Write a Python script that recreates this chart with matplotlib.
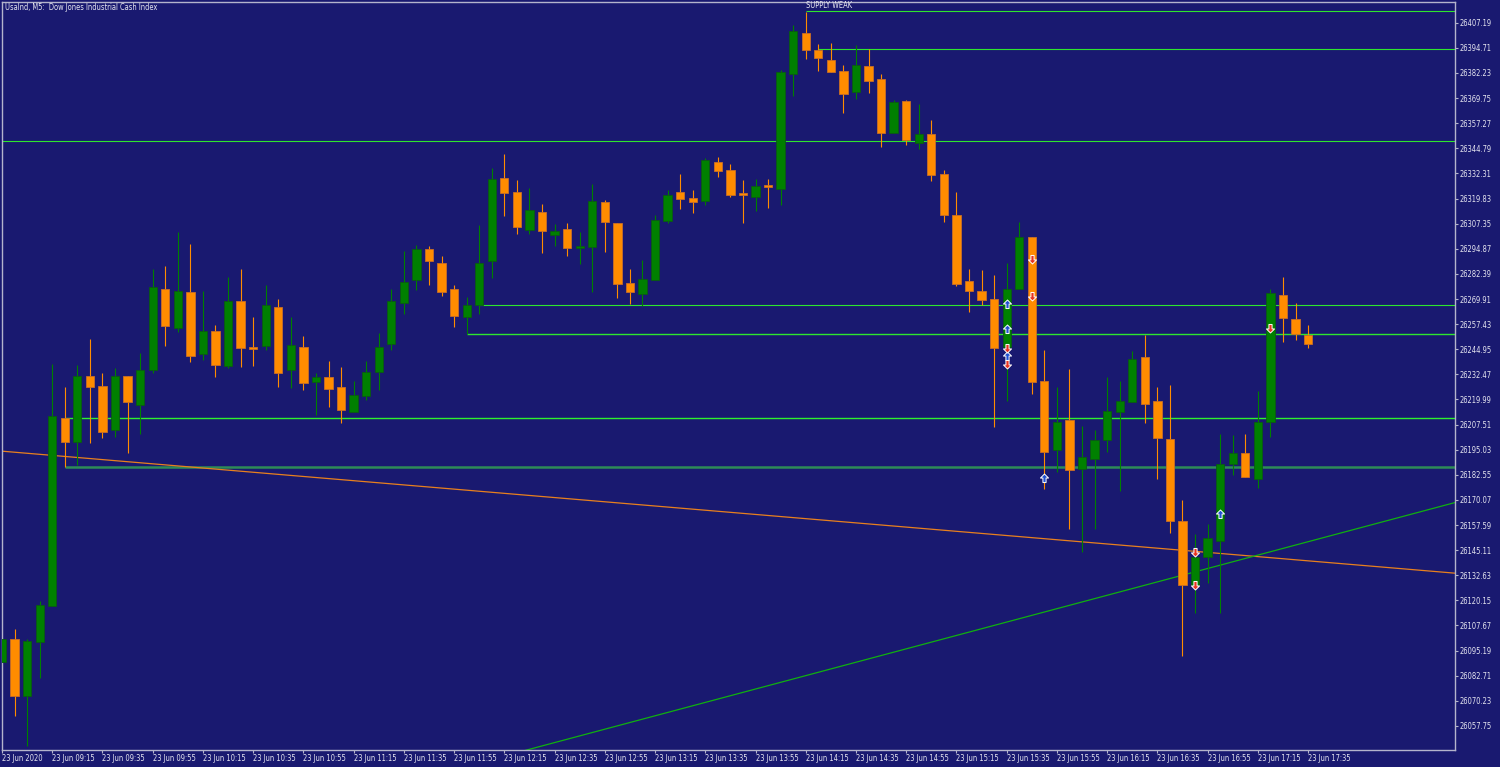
import numpy as np
import pandas as pd
import matplotlib
matplotlib.use("Agg")
import matplotlib.pyplot as plt
from matplotlib.path import Path
from matplotlib import font_manager as fm

# UsaInd M5 bars, 23 Jun 2020, first bar 08:55
start_time = "2020-06-23 08:55"
bar_minutes = 5

opens = [
    26089.6, 26101.0, 26072.7, 26099.5, 26117.4, 26210.8, 26198.7, 26231.5, 26226.7, 26204.7,
    26231.8, 26217.4, 26234.8, 26275.0, 26255.7, 26273.3, 26242.4, 26254.0, 26236.6, 26268.9,
    26245.9, 26246.7, 26265.8, 26234.8, 26245.9, 26228.8, 26231.2, 26226.2, 26213.6, 26221.9,
    26233.5, 26247.6, 26267.8, 26279.5, 26294.6, 26287.8, 26275.0, 26260.8, 26266.8, 26289.0,
    26330.1, 26323.1, 26304.4, 26313.0, 26301.7, 26304.7, 26295.3, 26295.8, 26318.1, 26307.8,
    26277.7, 26272.6, 26279.5, 26308.8, 26323.1, 26320.0, 26318.5, 26337.9, 26334.0, 26322.4,
    26320.5, 26326.1, 26324.7, 26381.7, 26402.1, 26393.8, 26388.8, 26383.2, 26372.6, 26385.9,
    26379.2, 26352.3, 26368.3, 26347.6, 26351.9, 26332.0, 26311.7, 26278.9, 26273.9, 26269.9,
    26246.2, 26274.9, 26300.7, 26229.2, 26195.0, 26209.7, 26185.6, 26190.6, 26200.0, 26213.9,
    26218.6, 26241.0, 26219.0, 26200.4, 26159.8, 26127.8, 26141.6, 26149.8, 26187.9, 26193.6,
    26180.5, 26209.0, 26271.9, 26260.0, 26252.0]
highs = [
    26101.0, 26105.9, 26101.0, 26119.9, 26237.6, 26226.2, 26237.0, 26249.9, 26233.0, 26235.6,
    26231.8, 26243.1, 26284.8, 26286.2, 26303.2, 26297.3, 26273.9, 26257.2, 26280.9, 26284.8,
    26261.0, 26276.7, 26269.9, 26261.0, 26251.7, 26233.0, 26239.1, 26236.1, 26229.2, 26239.0,
    26252.9, 26274.7, 26293.8, 26296.9, 26296.3, 26291.1, 26276.9, 26271.1, 26306.7, 26334.9,
    26342.1, 26328.9, 26324.9, 26317.1, 26307.0, 26307.8, 26303.2, 26327.1, 26319.1, 26307.8,
    26284.8, 26289.2, 26311.5, 26323.9, 26332.0, 26323.9, 26340.0, 26340.3, 26337.0, 26329.1,
    26329.6, 26329.6, 26383.7, 26406.1, 26412.7, 26396.6, 26397.1, 26386.2, 26396.0, 26394.0,
    26381.9, 26369.0, 26369.0, 26366.8, 26358.9, 26334.0, 26323.1, 26284.8, 26284.3, 26281.9,
    26288.0, 26308.2, 26300.7, 26244.6, 26226.1, 26235.0, 26206.8, 26204.8, 26231.2, 26229.0,
    26243.9, 26252.0, 26226.2, 26227.2, 26170.1, 26153.2, 26158.1, 26202.7, 26202.4, 26203.0,
    26224.1, 26274.9, 26280.9, 26267.8, 26256.9]
lows = [
    26089.6, 26062.9, 26047.8, 26081.6, 26117.4, 26186.5, 26187.4, 26198.5, 26200.7, 26201.5,
    26193.4, 26202.8, 26233.3, 26246.6, 26253.4, 26238.5, 26239.8, 26231.3, 26235.6, 26236.3,
    26236.6, 26244.4, 26226.4, 26225.9, 26224.6, 26212.4, 26216.4, 26208.5, 26213.6, 26219.6,
    26224.6, 26244.6, 26262.6, 26274.6, 26276.7, 26271.6, 26255.9, 26252.4, 26262.5, 26280.4,
    26311.3, 26302.4, 26302.4, 26292.6, 26296.3, 26291.4, 26287.5, 26273.6, 26293.3, 26270.4,
    26267.4, 26266.6, 26279.5, 26307.5, 26314.5, 26312.7, 26316.6, 26330.5, 26320.5, 26307.5,
    26313.8, 26315.3, 26316.8, 26370.6, 26389.2, 26383.4, 26382.9, 26362.3, 26369.3, 26372.4,
    26345.6, 26352.3, 26346.6, 26344.5, 26328.6, 26308.3, 26276.4, 26263.6, 26266.9, 26206.5,
    26219.4, 26274.9, 26222.7, 26175.5, 26183.8, 26155.6, 26144.2, 26155.6, 26193.9, 26174.7,
    26218.6, 26208.5, 26180.5, 26153.7, 26092.5, 26114.1, 26128.7, 26113.8, 26182.6, 26181.6,
    26175.9, 26201.5, 26248.7, 26249.7, 26245.7]
closes = [
    26101.0, 26072.7, 26099.8, 26118.0, 26211.9, 26198.7, 26231.8, 26226.4, 26203.8, 26231.8,
    26218.7, 26234.6, 26275.9, 26256.5, 26273.9, 26241.6, 26254.0, 26237.3, 26268.9, 26245.6,
    26245.2, 26266.9, 26233.3, 26247.1, 26228.3, 26231.2, 26225.4, 26214.8, 26222.1, 26233.7,
    26245.9, 26268.8, 26278.5, 26294.9, 26289.0, 26273.6, 26261.6, 26266.8, 26287.8, 26329.6,
    26322.8, 26305.6, 26314.0, 26303.7, 26303.9, 26295.4, 26296.3, 26318.6, 26308.3, 26277.4,
    26273.6, 26279.7, 26309.0, 26321.8, 26319.6, 26318.3, 26339.0, 26333.7, 26321.6, 26321.6,
    26326.1, 26325.6, 26382.7, 26403.0, 26393.8, 26389.8, 26382.9, 26371.9, 26386.2, 26378.4,
    26352.6, 26367.8, 26348.9, 26351.9, 26331.7, 26311.8, 26277.5, 26273.8, 26269.4, 26245.7,
    26274.7, 26300.7, 26228.8, 26193.8, 26208.8, 26185.0, 26191.6, 26199.9, 26214.3, 26219.1,
    26240.1, 26217.9, 26200.7, 26159.5, 26127.8, 26141.9, 26151.2, 26187.9, 26193.6, 26181.6,
    26208.8, 26273.1, 26260.3, 26252.5, 26247.7]

# horizontal zone lines: price, first bar, colour, width
level_prices = [26412.9, 26394.0, 26348.3, 26266.8, 26252.4, 26210.6, 26186.6]
level_start = [64, 65, 0, 38, 37, 5, 5]
level_colors = ["#2ee62e", "#2ee62e", "#2ee62e", "#2ee62e", "#2ee62e", "#2ef02e", "#2e8b57"]
level_widths = [0.8, 0.8, 0.8, 0.8, 1.0, 1.0, 1.8]

# trend lines, two anchor points each (bar, price)
orange_bars = [0, 104]
orange_prices = [26194.3, 26139.8]
green_bars = [60, 104]
green_prices = [26076.1, 26149.3]

# signal arrows
arrow_up_bars = [80, 80, 80, 83, 97]
arrow_up_prices = [26267.3, 26255.2, 26241.8, 26180.8, 26162.9]
arrow_dn_bars = [80, 80, 82, 82, 95, 95, 101]
arrow_dn_prices = [26245.7, 26237.5, 26289.7, 26271.4, 26144.4, 26127.8, 26255.4]

# price scale
tick_start = 26057.75
tick_step = 12.48
tick_count = 29

bg = "#191970"
up_col = "#008000"
dn_col = "#ff8c00"
txt_col = "#e6e6f0"
frame_col = "#b4b4cc"


def narrow_font():
    # look for a condensed sans face, the chart uses a small narrow terminal font
    keys = ["liberationsansnarrow-regular", "dejavusanscondensed.ttf", "notosans-condensed.ttf",
            "robotocondensed-regular", "opensans-condensed", "narrow", "condensed"]
    files = [f.fname for f in fm.fontManager.ttflist]
    for k in keys:
        for fn in files:
            low = fn.lower().replace("_", "").replace(" ", "")
            if k in low and not any(b in low for b in ["bold", "italic", "oblique", "light",
                                                        "thin", "black", "medium", "semi", "extra"]):
                return fm.FontProperties(fname=fn)
    return fm.FontProperties(family="DejaVu Sans")


fp = narrow_font()

fig = plt.figure(figsize=(15, 7.67), dpi=100, facecolor=bg)
ax = fig.add_axes([2 / 1500, 17 / 767, 1453 / 1500, 748 / 767])
ax.set_facecolor(bg)

# scale the font so a time label is as wide as in the terminal (~43 px)
renderer = fig.canvas.get_renderer()
probe = fig.text(0, 0, "23 Jun 09:15", fontproperties=fp, fontsize=10)
w = probe.get_window_extent(renderer).width
probe.remove()
fs = min(7.0, 10 * 43 / w)

n = len(opens)
bars = np.arange(n)
for i in bars:
    o, h, l, c = opens[i], highs[i], lows[i], closes[i]
    col = up_col if c > o else dn_col
    edge = "#0a5a14" if c > o else "#c86e28"
    ax.vlines(i, l, h, color=col, lw=0.8, zorder=3)
    body = max(abs(c - o), 0.8)
    ax.bar(i, body, bottom=min(o, c), width=0.66, color=col,
           edgecolor=edge, linewidth=0.6, zorder=4)

xmax = 115.7
for p, s, col, lw in zip(level_prices, level_start, level_colors, level_widths):
    ax.hlines(p, s, xmax + 1, color=col, lw=lw, zorder=2)

xs = np.array([-2, xmax + 2])
k = np.polyfit(orange_bars, orange_prices, 1)
ax.plot(xs, np.polyval(k, xs), color="#e8801e", lw=0.9, zorder=2)
k = np.polyfit(green_bars, green_prices, 1)
ax.plot(xs, np.polyval(k, xs), color="#10b010", lw=0.9, zorder=2)

up_arrow = Path([(0, 1), (-0.9, 0.1), (-0.35, 0.1), (-0.35, -0.9), (0.35, -0.9),
                 (0.35, 0.1), (0.9, 0.1), (0, 1)], closed=True)
dn_arrow = Path([(x, -y) for x, y in up_arrow.vertices], closed=True)
ax.scatter(arrow_up_bars, arrow_up_prices, marker=up_arrow, s=42, color="#1e4fd0",
           edgecolors="white", linewidths=0.7, zorder=6)
ax.scatter(arrow_dn_bars, arrow_dn_prices, marker=dn_arrow, s=42, color="#e8321e",
           edgecolors="white", linewidths=0.7, zorder=6)

ax.text(64, level_prices[0] + 0.8, "SUPPLY WEAK", ha="left", va="bottom",
        fontproperties=fp, fontsize=fs, color=txt_col)

ax.set_xlim(0.016, xmax)
ax.set_ylim(26045.8, 26417.5)

yt = tick_start + tick_step * np.arange(tick_count)
ax.yaxis.tick_right()
ax.set_yticks(yt)
ax.set_yticklabels([f"{v:.2f}" for v in yt], fontproperties=fp, fontsize=fs)

times = pd.date_range(start_time, periods=n, freq=f"{bar_minutes}min")
xt = bars[::4]
labels = []
for j in xt:
    t = times[j]
    labels.append(t.strftime("%d %b %Y") if j == 0 else t.strftime("%d %b %H:%M"))
ax.set_xticks(xt)
ax.set_xticklabels(labels, ha="left", fontproperties=fp, fontsize=fs)

ax.tick_params(axis="both", colors=frame_col, labelcolor=txt_col,
               length=2.4, width=0.8, direction="out", pad=0.8)
for sp in ax.spines.values():
    sp.set_color(frame_col)
    sp.set_linewidth(1.0)

fig.text(5 / 1500, 1 - 7 / 767, "UsaInd, M5:  Dow Jones Industrial Cash Index",
         ha="left", va="center", fontproperties=fp, fontsize=fs, color=txt_col)

fig.savefig("out.png", dpi=100, facecolor=bg)
